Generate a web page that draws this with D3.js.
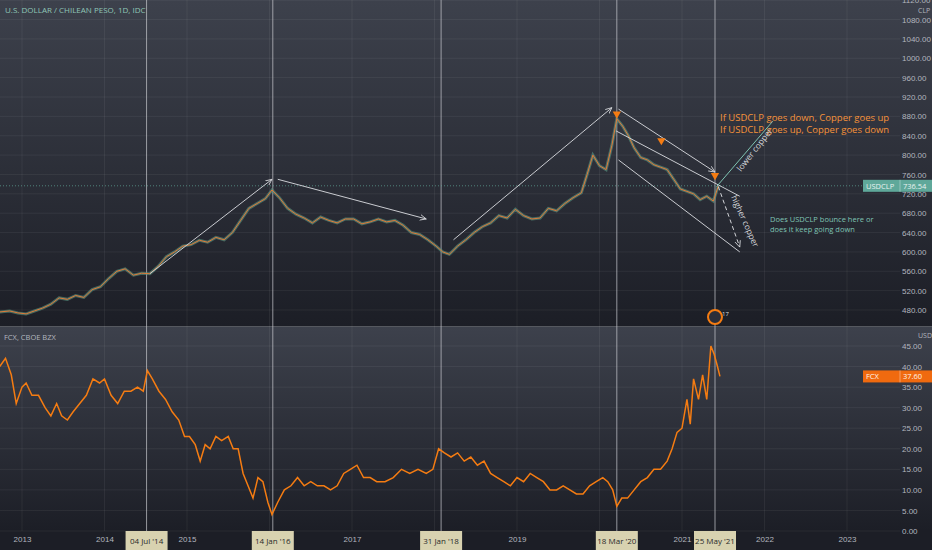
<!DOCTYPE html><html><head><meta charset="utf-8">
<script src="https://cdn.jsdelivr.net/npm/d3@7"></script>
<style>body{margin:0;background:#1e2029}svg{display:block;font-family:"Open Sans",sans-serif}</style></head><body>
<svg id="c" width="932" height="550"></svg>
<script>
const usdT=[2012.73,2012.85,2012.95,2013.05,2013.15,2013.25,2013.35,2013.45,2013.55,2013.65,2013.75,2013.85,2013.95,2014.05,2014.15,2014.25,2014.35,2014.45,2014.55,2014.65,2014.75,2014.85,2014.95,2015.05,2015.15,2015.25,2015.35,2015.45,2015.55,2015.65,2015.75,2015.85,2015.95,2016.03,2016.12,2016.22,2016.32,2016.42,2016.52,2016.62,2016.72,2016.82,2016.92,2017.02,2017.12,2017.22,2017.32,2017.42,2017.52,2017.62,2017.72,2017.82,2017.92,2018.02,2018.1,2018.18,2018.28,2018.38,2018.48,2018.58,2018.68,2018.78,2018.88,2018.98,2019.08,2019.18,2019.28,2019.38,2019.48,2019.58,2019.68,2019.78,2019.85,2019.92,2020.0,2020.08,2020.15,2020.21,2020.28,2020.35,2020.42,2020.5,2020.58,2020.66,2020.74,2020.82,2020.9,2020.98,2021.06,2021.14,2021.22,2021.3,2021.38,2021.44];
const usdV=[476,478,474,472,478,484,492,505,502,510,506,522,528,545,560,565,552,556,555,570,590,600,612,615,624,620,630,625,640,665,690,700,710,728,712,690,678,670,660,672,665,660,668,668,658,662,668,662,665,655,640,636,625,612,600,595,612,625,640,652,660,675,670,688,675,668,670,690,685,700,712,722,760,800,778,770,820,875,860,840,815,795,790,780,775,770,750,730,725,720,708,715,705,736];
const fcxT=[2012.73,2012.8,2012.87,2012.93,2013.0,2013.05,2013.12,2013.2,2013.28,2013.35,2013.42,2013.48,2013.55,2013.62,2013.7,2013.78,2013.86,2013.94,2014.0,2014.08,2014.16,2014.24,2014.32,2014.4,2014.47,2014.52,2014.58,2014.66,2014.74,2014.82,2014.9,2014.97,2015.03,2015.1,2015.16,2015.22,2015.28,2015.35,2015.42,2015.5,2015.56,2015.62,2015.68,2015.74,2015.8,2015.86,2015.92,2015.98,2016.03,2016.1,2016.18,2016.26,2016.34,2016.42,2016.5,2016.58,2016.66,2016.74,2016.82,2016.9,2016.98,2017.06,2017.14,2017.22,2017.3,2017.4,2017.5,2017.6,2017.7,2017.8,2017.9,2017.98,2018.05,2018.12,2018.2,2018.28,2018.36,2018.44,2018.52,2018.6,2018.68,2018.76,2018.84,2018.92,2019.0,2019.08,2019.16,2019.24,2019.32,2019.4,2019.48,2019.56,2019.64,2019.72,2019.8,2019.88,2019.96,2020.04,2020.1,2020.16,2020.21,2020.27,2020.34,2020.42,2020.5,2020.58,2020.66,2020.74,2020.82,2020.88,2020.94,2021.0,2021.06,2021.1,2021.14,2021.2,2021.25,2021.3,2021.35,2021.39,2021.43,2021.46];
const fcxV=[40,42,38,31,35,36,33,33,30,28,31,28,27,29,31,33,37,36,37,33,31,34,34,35,34,39,37,34,32,29,27,23,23,21,17,21,20,23,22,23,20,20,14,11,8,13,12,7,4,7,10,11,13,11,12,11,11,10,11,14,15,16,13,13,12,12,13,15,14,15,14,15,20,19,18,19,17,18,16,17,14,13,12,11,13,12,14,13,12,10,10,11,10,9,9,11,12,13,12,10,6,8,8,10,12,13,15,15,17,20,24,25,32,26,37,32,38,32,45,43,40,37.6];
const yearTicks=[2013,2014,2015,2017,2019,2021,2022,2023];
const usdTicks=[480,520,560,600,640,680,720,760,800,840,880,920,960,1000,1040,1080,1120];
const fcxTicks=[0,5,10,15,20,25,30,35,40,45];
const markers=[{t:2014.51,l:"04 Jul '14"},{t:2016.04,l:"14 Jan '16"},{t:2018.08,l:"31 Jan '18"},{t:2020.21,l:"18 Mar '20"},{t:2021.4,l:"25 May '21"}];

const svg=d3.select("#c"),W=900;
const x=d3.scaleLinear().domain([2013,2014]).range([22,104.5]);
const y1=d3.scaleLinear().domain([480,920]).range([310,97]);
const y2=d3.scaleLinear().domain([0,45]).range([531,346]);
const defs=svg.append("defs");
function grad(id){const g=defs.append("linearGradient").attr("id",id).attr("x1",0).attr("x2",0).attr("y1",0).attr("y2",1);
g.append("stop").attr("offset",0).attr("stop-color","#3d414c");g.append("stop").attr("offset",1).attr("stop-color","#1c1e26");}
grad("g1");grad("g2");
svg.append("rect").attr("width",932).attr("height",326).attr("fill","url(#g1)");
svg.append("rect").attr("y",327).attr("width",932).attr("height",204).attr("fill","url(#g2)");
svg.append("rect").attr("y",531).attr("width",932).attr("height",19).attr("fill","#1c1e26");
svg.append("line").attr("x1",0).attr("x2",932).attr("y1",326.5).attr("y2",326.5).attr("stroke","#55585f");
const grid=svg.append("g").attr("stroke","#ffffff").attr("stroke-opacity",0.06);
d3.range(2013,2024).forEach(t=>grid.append("line").attr("x1",x(t)).attr("x2",x(t)).attr("y1",0).attr("y2",531));
usdTicks.forEach(v=>grid.append("line").attr("x1",0).attr("x2",W).attr("y1",y1(v)).attr("y2",y1(v)));
fcxTicks.forEach(v=>grid.append("line").attr("x1",0).attr("x2",W).attr("y1",y2(v)).attr("y2",y2(v)));
const ax1=svg.append("g").attr("transform",`translate(${W},0)`).call(d3.axisRight(y1).tickValues(usdTicks).tickSize(0).tickFormat(d3.format(".2f")));
const ax2=svg.append("g").attr("transform",`translate(${W},0)`).call(d3.axisRight(y2).tickValues(fcxTicks).tickSize(0).tickFormat(d3.format(".2f")));
const ax3=svg.append("g").attr("transform","translate(0,531)").call(d3.axisBottom(x).tickValues(yearTicks).tickSize(0).tickFormat(d3.format("d")));
[ax1,ax2,ax3].forEach(a=>{a.select(".domain").remove();a.selectAll("text").attr("fill","#b2b5be").attr("font-size",8);});
ax1.selectAll("text").attr("x",2);ax2.selectAll("text").attr("x",2);ax3.selectAll("text").attr("dy",8);
svg.append("text").attr("x",918).attr("y",13).text("CLP").attr("fill","#b2b5be").attr("font-size",7);
svg.append("text").attr("x",918).attr("y",338).text("USD").attr("fill","#b2b5be").attr("font-size",7);
markers.forEach(m=>svg.append("line").attr("x1",x(m.t)).attr("x2",x(m.t)).attr("y1",0).attr("y2",531).attr("stroke","#c9cbd0").attr("stroke-opacity",0.7));
svg.append("line").attr("x1",0).attr("x2",W).attr("y1",y1(736.54)).attr("y2",y1(736.54)).attr("stroke","#5fa89a").attr("stroke-dasharray","1,2").attr("stroke-opacity",0.7);
const usdD=usdT.map((t,i)=>[t,usdV[i]]),fcxD=fcxT.map((t,i)=>[t,fcxV[i]]);
svg.append("path").attr("d",d3.line().x(d=>x(d[0])).y(d=>y1(d[1]))(usdD)).attr("fill","none").attr("stroke","#5c9a86").attr("stroke-width",3).attr("stroke-opacity",0.6);
svg.append("path").attr("d",d3.line().x(d=>x(d[0])).y(d=>y1(d[1]))(usdD)).attr("fill","none").attr("stroke","#e07b39").attr("stroke-width",1);
svg.append("path").attr("d",d3.line().x(d=>x(d[0])).y(d=>y2(d[1]))(fcxD)).attr("fill","none").attr("stroke","#f57c12").attr("stroke-width",1.5);
defs.append("marker").attr("id","ah").attr("viewBox","0 0 10 10").attr("refX",9).attr("refY",5).attr("markerWidth",7).attr("markerHeight",7).attr("orient","auto").append("path").attr("d","M0,1L9,5L0,9").attr("fill","none").attr("stroke","#d4d6da").attr("stroke-width",1.2);
const ann=[[[2014.55,555],[2016.03,750]],[[2016.1,750],[2017.9,668]],[[2018.23,625],[2020.15,898]],[[2020.23,895],[2021.4,765]],[[2020.2,850],[2021.7,715]],[[2020.23,790],[2021.7,600]],[[2021.42,735],[2022.1,870]]];
ann.forEach((a,i)=>svg.append("line").attr("x1",x(a[0][0])).attr("y1",y1(a[0][1])).attr("x2",x(a[1][0])).attr("y2",y1(a[1][1])).attr("stroke",i==6?"#7fc4b3":"#c9cbd0").attr("stroke-width",1).attr("marker-end",i<4?"url(#ah)":null));
svg.append("line").attr("x1",x(2021.44)).attr("y1",y1(735)).attr("x2",x(2021.7)).attr("y2",y1(610)).attr("stroke","#d4d6da").attr("stroke-dasharray","4,3").attr("marker-end","url(#ah)");
[[2020.21,885],[2020.75,830],[2021.4,758]].forEach(p=>svg.append("path").attr("d",d3.symbol(d3.symbolTriangle,30)()).attr("transform",`translate(${x(p[0])},${y1(p[1])}) rotate(180)`).attr("fill","#f57c12"));
svg.append("text").attr("x",720).attr("y",121).attr("fill","#f5923a").attr("font-size",9.5).text("If USDCLP goes down, Copper goes up");
svg.append("text").attr("x",720).attr("y",133).attr("fill","#f5923a").attr("font-size",9.5).text("If USDCLP goes up, Copper goes down");
svg.append("text").attr("transform","translate(741,172) rotate(-52)").attr("fill","#d4d6da").attr("font-size",8.5).text("lower copper");
svg.append("text").attr("transform","translate(731,197) rotate(66)").attr("fill","#d4d6da").attr("font-size",8.5).text("higher copper");
svg.append("text").attr("x",770).attr("y",222).attr("fill","#7fc4b3").attr("font-size",7.5).text("Does USDCLP bounce here or");
svg.append("text").attr("x",770).attr("y",232).attr("fill","#7fc4b3").attr("font-size",7.5).text("does it keep going down");
svg.append("text").attr("x",5).attr("y",13).attr("fill","#8fc6b6").attr("font-size",8).text("U.S. DOLLAR / CHILEAN PESO, 1D, IDC");
svg.append("text").attr("x",4).attr("y",340).attr("fill","#b2b5be").attr("font-size",7.5).text("FCX, CBOE BZX");
function plabel(yy,name,val,fill,tc){svg.append("rect").attr("x",863).attr("y",yy-6).attr("width",69).attr("height",12).attr("fill",fill);
svg.append("text").attr("x",866).attr("y",yy+3).attr("fill",tc).attr("font-size",7.5).text(name);
svg.append("line").attr("x1",W).attr("x2",W).attr("y1",yy-6).attr("y2",yy+6).attr("stroke",tc).attr("stroke-opacity",.4);
svg.append("text").attr("x",903).attr("y",yy+3).attr("fill",tc).attr("font-size",7.5).text(val);}
plabel(y1(736.54),"USDCLP","736.54","#5fa89a","#e8f2ef");
plabel(y2(37.6),"FCX","37.60","#f06a0f","#fff3e8");
svg.append("circle").attr("cx",x(2021.4)).attr("cy",317).attr("r",7).attr("fill","#2a2e39").attr("stroke","#f57c12").attr("stroke-width",2);
svg.append("text").attr("x",722).attr("y",316).attr("fill","#ddd").attr("font-size",6).text("17");
markers.forEach(m=>{const g=svg.append("g").attr("transform",`translate(${x(m.t)},540)`);
g.append("rect").attr("x",-21).attr("y",-9).attr("width",42).attr("height",19).attr("fill","#d8d2b0");
g.append("text").attr("text-anchor","middle").attr("y",4).attr("fill","#2a2a2a").attr("font-size",8).text(m.l);});
</script></body></html>
